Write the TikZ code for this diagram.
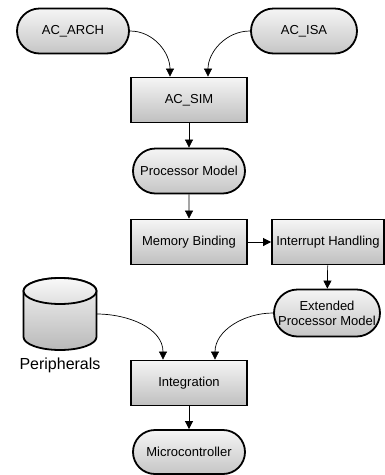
\documentclass[tikz,border=0pt]{standalone}
\usepackage{fontspec}
\setmainfont{Liberation Sans}
\usetikzlibrary{shapes.misc,arrows.meta}
\begin{document}
\begin{tikzpicture}[x=1pt,y=-1pt]
	\tikzset{model/.style = {rounded rectangle, draw, line width=1.8pt, top color=gray!8, bottom color=gray!45, minimum width=116pt, minimum height=45pt, font=\fontsize{13}{15}\selectfont, align=center, inner sep=2pt}}
	\tikzset{stage/.style = {rectangle, draw, line width=1.8pt, top color=gray!8, bottom color=gray!50, minimum width=116pt, minimum height=45pt, font=\fontsize{13}{15}\selectfont, inner sep=2pt}}
	\tikzset{flow/.style = {-{Triangle[length=8pt,width=8pt]}, line width=0.7pt}}
	\useasboundingbox (0,0) rectangle (385,475);
	\node[model] (arch) at (73,31) {AC\_ARCH};
	\node[model, minimum width=110pt] (isa) at (304,31) {AC\_ISA};
	\node[stage] (sim) at (189,100) {AC\_SIM};
	\node[model] (proc) at (189,171) {Processor Model};
	\node[stage] (mem) at (189,242) {Memory Binding};
	\node[stage, minimum width=112pt] (irq) at (328,242) {Interrupt Handling};
	\node[model, minimum width=110pt, minimum height=47pt] (ext) at (327,313) {Extended\\Processor Model};
	% peripherals drum
	\path[draw, line width=1.8pt, top color=gray!8, bottom color=gray!55]
		(23.5,291) -- (23.5,337) arc[start angle=180, end angle=0, x radius=36.5, y radius=13]
		-- (96.5,291) arc[start angle=0, end angle=-180, x radius=36.5, y radius=13] -- cycle;
	\path[draw, line width=1.8pt, top color=gray!5, bottom color=gray!25] (60,291) ellipse[x radius=36.5, y radius=13];
	\coordinate (periph) at (96.5,314);
	\node[font=\fontsize{16}{18}\selectfont] (plabel) at (60,365) {Peripherals};
	\node[stage] (integ) at (189,383) {Integration};
	\node[model, minimum height=44pt] (micro) at (189,452) {Microcontroller};
	% connectors
	\draw[flow] (arch.east) to[out=0,in=90] ([xshift=-19pt]sim.north);
	\draw[flow] (isa.west) to[out=180,in=90] ([xshift=19pt]sim.north);
	\draw[flow] (sim) -- (proc);
	\draw[flow] (proc) -- (mem);
	\draw[flow] (mem) -- (irq);
	\draw[flow] (irq) -- (ext);
	\draw[flow] (periph) to[out=0,in=90] ([xshift=-26pt]integ.north);
	\draw[flow] (ext.west) to[out=180,in=90] ([xshift=26pt]integ.north);
	\draw[flow] (integ) -- (micro);
\end{tikzpicture}
\end{document}
